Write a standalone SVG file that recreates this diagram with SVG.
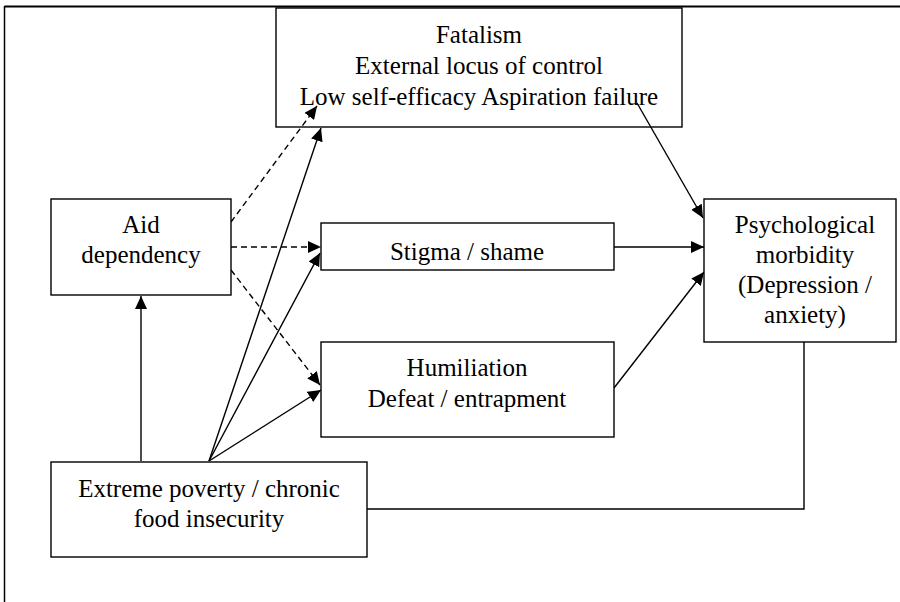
<svg xmlns="http://www.w3.org/2000/svg" width="900" height="602" viewBox="0 0 900 602">
  <style>
    .box { fill: #fff; stroke: #000; stroke-width: 1.4; }
    .lbl { font-family: "Liberation Serif", "Times New Roman", serif; font-size: 25px; fill: #000; text-anchor: middle; }
    .edge { fill: none; stroke: #000; stroke-width: 1.4; }
    .dash { stroke-dasharray: 6 4; }
  </style>
  <defs>
    <marker id="arrow" markerUnits="userSpaceOnUse" markerWidth="14" markerHeight="12" refX="13" refY="6" orient="auto">
      <path d="M0,0 L13,6 L0,12 Z" fill="#000"/>
    </marker>
    <clipPath id="stigmaClip"><rect x="321" y="223" width="293" height="47"/></clipPath>
  </defs>
  <rect width="900" height="602" fill="#fff"/>

  <!-- outer frame -->
  <g id="frame">
    <line x1="4.5" y1="6.5" x2="900" y2="6.5" stroke="#000" stroke-width="2"/>
    <line x1="4.5" y1="6" x2="4.5" y2="602" stroke="#000" stroke-width="1.5"/>
  </g>

  <!-- connectors -->
  <g id="connectors">
    <line class="edge" x1="141" y1="461" x2="141" y2="296" marker-end="url(#arrow)"/>
    <line class="edge" x1="209" y1="461" x2="321" y2="128" marker-end="url(#arrow)"/>
    <line class="edge" x1="209" y1="461" x2="320" y2="253" marker-end="url(#arrow)"/>
    <line class="edge" x1="209" y1="461" x2="321" y2="390" marker-end="url(#arrow)"/>
    <line class="edge dash" x1="231" y1="222" x2="317" y2="106" marker-end="url(#arrow)"/>
    <line class="edge dash" x1="231" y1="247" x2="321" y2="247" marker-end="url(#arrow)"/>
    <line class="edge dash" x1="231" y1="270" x2="320" y2="385" marker-end="url(#arrow)"/>
    <line class="edge" x1="637" y1="103" x2="703" y2="218" marker-end="url(#arrow)"/>
    <line class="edge" x1="614" y1="247" x2="704" y2="247" marker-end="url(#arrow)"/>
    <line class="edge" x1="614" y1="388" x2="704" y2="272" marker-end="url(#arrow)"/>
    <polyline class="edge" points="804,342 804,509 367,509"/>
  </g>

  <g id="fatalism">
    <rect class="box" x="276" y="8" width="406" height="119" fill-opacity="0"/>
    <text class="lbl" x="479" y="43">Fatalism</text>
    <text class="lbl" x="479" y="74">External locus of control</text>
    <text class="lbl" x="479" y="105">Low self-efficacy Aspiration failure</text>
  </g>

  <g id="aid">
    <rect class="box" x="51" y="199" width="180" height="96"/>
    <text class="lbl" x="141" y="233">Aid</text>
    <text class="lbl" x="141" y="263">dependency</text>
  </g>

  <g id="stigma">
    <rect class="box" x="321" y="223" width="293" height="47"/>
    <text class="lbl" x="467" y="260" clip-path="url(#stigmaClip)">Stigma / shame</text>
  </g>

  <g id="humiliation">
    <rect class="box" x="321" y="342" width="293" height="95"/>
    <text class="lbl" x="467" y="376">Humiliation</text>
    <text class="lbl" x="467" y="407">Defeat / entrapment</text>
  </g>

  <g id="morbidity">
    <rect class="box" x="704" y="199" width="192" height="143"/>
    <text class="lbl" x="805" y="233">Psychological</text>
    <text class="lbl" x="805" y="263">morbidity</text>
    <text class="lbl" x="805" y="293">(Depression /</text>
    <text class="lbl" x="805" y="323">anxiety)</text>
  </g>

  <g id="poverty">
    <rect class="box" x="51" y="462" width="316" height="95"/>
    <text class="lbl" x="209" y="497">Extreme poverty / chronic</text>
    <text class="lbl" x="209" y="527">food insecurity</text>
  </g>
</svg>
